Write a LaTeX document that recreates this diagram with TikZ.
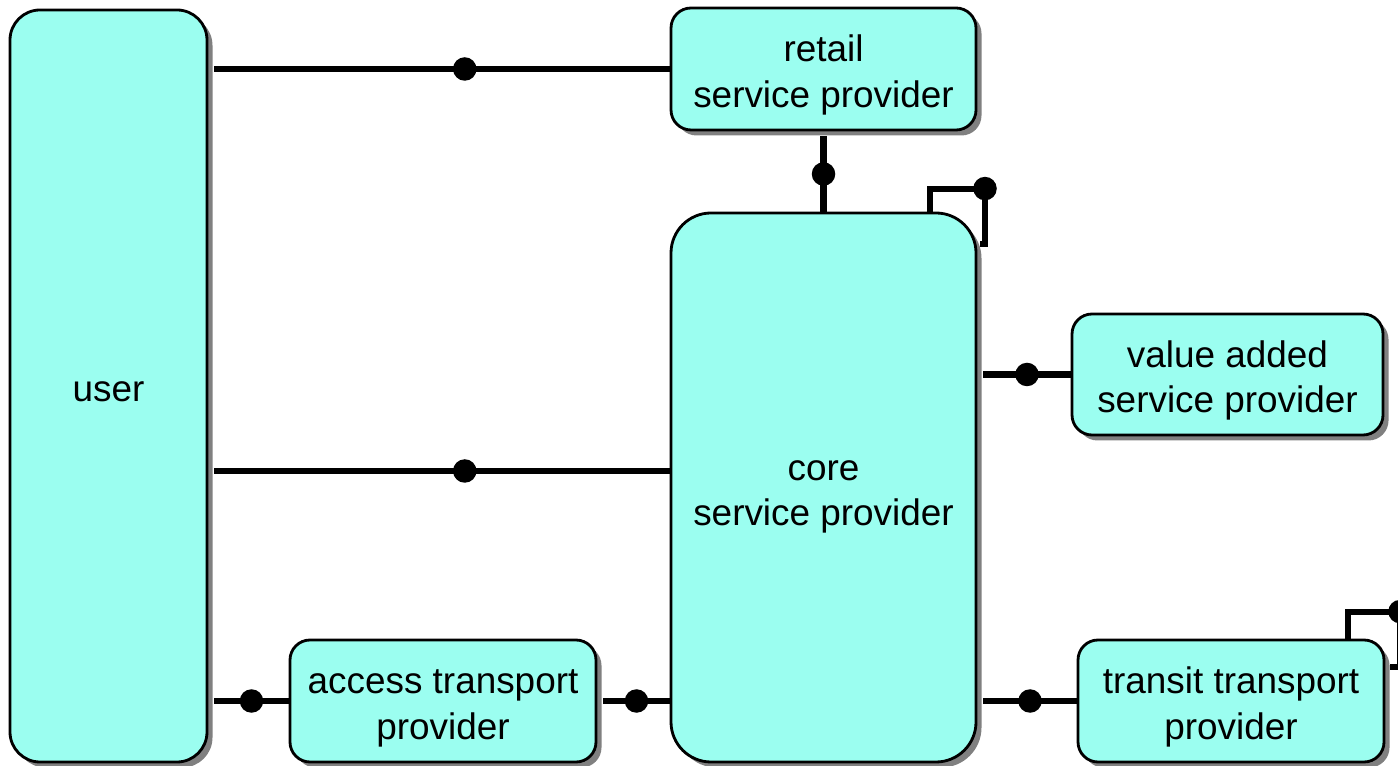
\documentclass[tikz,border=0pt]{standalone}
\usepackage{fontspec}
\setmainfont{Liberation Sans}
\usepackage{tikz}
\usetikzlibrary{positioning,calc,shapes,shadows}
\definecolor{boxcyan}{RGB}{155,254,240}
\newcommand{\tstrut}{\rule[-2.2pt]{0pt}{13.2pt}}
\tikzset{
    actor/.style={
        draw,
        line width=0.8pt,
        rectangle,
        rounded corners=0.2cm,
        fill=boxcyan,
        drop shadow={shadow xshift=0.055cm, shadow yshift=-0.055cm, fill=black!50, opacity=1},
        align=center,
        inner sep=0pt,
        font=\fontsize{10.5pt}{13pt}\selectfont
    },
    link/.style={
        draw,
        line width=1.75pt
    },
    dot/.style={
        circle,
        fill=black,
        minimum size=0.235cm,
        inner sep=0pt
    }
}

\begin{document}
\begin{tikzpicture}
  \clip (0,0) rectangle (13.98,-7.66);

  % Providers
  \node[actor, rounded corners=0.3cm, minimum width=1.97cm, minimum height=7.52cm] (user) at (1.085,-3.86) {\tstrut user};
  \node[actor, minimum width=3.05cm, minimum height=1.22cm] (retail) at (8.235,-0.69) {\tstrut retail\\service provider};
  \node[actor, rounded corners=0.4cm, minimum width=3.05cm, minimum height=5.49cm] (core) at (8.235,-4.875) {\tstrut core\\service provider};
  \node[actor, minimum width=3.11cm, minimum height=1.21cm] (value) at (12.275,-3.745) {\tstrut value added\\service provider};
  \node[actor, minimum width=3.06cm, minimum height=1.22cm] (access) at (4.43,-7.01) {\tstrut access transport\\provider};
  \node[actor, minimum width=3.06cm, minimum height=1.22cm] (transit) at (12.31,-7.01) {\tstrut transit transport\\provider};

  % Connectors
  \coordinate (core-in) at ([yshift=1.65mm]core.west);
  \draw[link] ([xshift=0.6mm]user.east |- retail.west) -- node[dot, pos=0.55] (d1) {} (retail.west);
  \draw[link] ([xshift=0.6mm]user.east |- core-in) -- node[dot, pos=0.55] (d2) {} (core-in);
  \draw[link] ([xshift=0.6mm]user.east |- access.west) -- node[dot] (d3) {} (access.west);
  \draw[link] ([xshift=0.6mm]access.east) -- node[dot] (d4) {} (access.east -| core.west);
  \draw[link] ([yshift=-0.5mm]retail.south) -- node[dot] (d5) {} (core.north);
  \draw[link] ([xshift=0.6mm]core.east |- value.west) -- node[dot] (d6) {} (value.west);
  \draw[link] ([xshift=0.6mm]core.east |- transit.west) -- node[dot] (d7) {} (transit.west);

  % Loops
  \draw[link] ([xshift=10.65mm]core.north) -- ++(0,0.23) -- ++(0.55,0) node[dot] (d8) {} -- ++(0,-0.55) -- ++(-0.05,0);
  \draw[link] ([xshift=11.7mm]transit.north) -- ++(0,0.27) -- ++(0.52,0) node[dot] (d9) {} -- ++(0,-0.55) -- ++(-0.1,0);
\end{tikzpicture}
\end{document}
